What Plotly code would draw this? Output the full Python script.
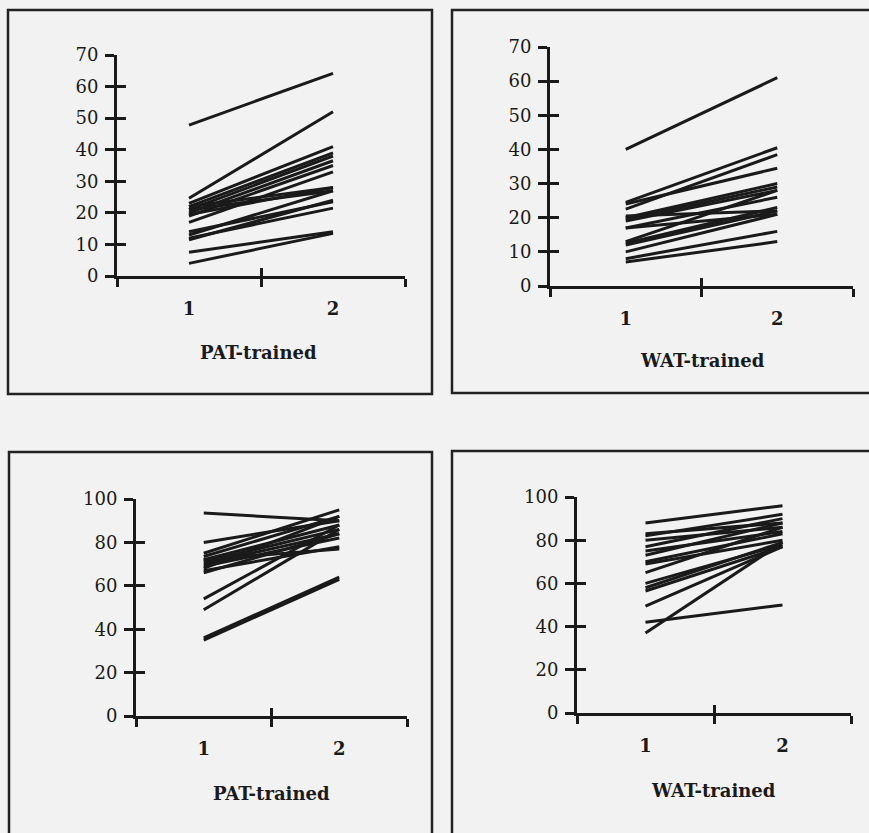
import plotly.graph_objects as go

# ---------------- data ----------------
sessions = [1, 2]

pat_top_s1 = [47.8, 24.6, 23, 22, 21, 20, 19, 17, 22, 21, 19.5, 13, 11.5, 12, 14, 7.5, 4]
pat_top_s2 = [64.2, 52, 41, 39, 38, 36.5, 35, 33, 28, 27, 28, 27, 24, 21.5, 23.5, 14, 13.5]

wat_top_s1 = [40, 24.5, 22.5, 24, 20, 19.5, 19, 17, 20.5, 17, 13, 12.5, 12, 10, 8, 7]
wat_top_s2 = [61, 40.5, 38.5, 34.5, 30, 29, 28, 26, 22, 21, 28, 23, 22, 21, 16, 13]

pat_bot_s1 = [93.5, 80, 75, 73.5, 72, 71, 70, 69, 68, 67, 66, 54, 49, 35, 36, 72]
pat_bot_s2 = [90, 90, 95, 92, 88, 86, 84, 82, 92, 78, 84, 88, 86, 63, 64, 77]

wat_bot_s1 = [88, 83, 82, 80, 77, 75, 73, 70, 69, 65, 60, 58, 56.5, 49.5, 42, 37]
wat_bot_s2 = [96, 88, 92, 86, 90, 84, 88, 83, 80, 86, 78, 79, 77, 77, 50, 79]

titles = ["PAT-trained", "WAT-trained", "PAT-trained", "WAT-trained"]
top_ticks = [0, 10, 20, 30, 40, 50, 60, 70]
bot_ticks = [0, 20, 40, 60, 80, 100]

W, H = 869, 833

def fx(px):
    return px / W

def fy(py):
    return 1 - py / H

# panel geometry in pixels: (x_left, x_right, y_bottom(0), y_top(max))
panels = [
    dict(s1=pat_top_s1, s2=pat_top_s2, geom=(117, 405, 276, 55), ymax=70, ticks=top_ticks,
         title_xy=(258, 352)),
    dict(s1=wat_top_s1, s2=wat_top_s2, geom=(550, 853, 286, 47), ymax=70, ticks=top_ticks,
         title_xy=(702, 360)),
    dict(s1=pat_bot_s1, s2=pat_bot_s2, geom=(136, 407, 716, 499), ymax=100, ticks=bot_ticks,
         title_xy=(271, 793)),
    dict(s1=wat_bot_s1, s2=wat_bot_s2, geom=(577, 851, 713, 497), ymax=100, ticks=bot_ticks,
         title_xy=(713, 790)),
]

FONT = "DejaVu Serif"
INK = "#1a1a1a"
BG = "#f2f2f2"

fig = go.Figure()
layout = dict(
    width=W, height=H, margin=dict(l=0, r=0, t=0, b=0, autoexpand=False),
    paper_bgcolor=BG, plot_bgcolor="rgba(0,0,0,0)",
    showlegend=False, font=dict(family=FONT, color=INK, size=18),
)
annotations = []
shapes = []

for i, p in enumerate(panels):
    n = i + 1
    m = i + 5
    xl, xr, yb, yt = p["geom"]
    xdom = [fx(xl), fx(xr)]
    ydom = [fy(yb), fy(yt)]
    xa = "x" if n == 1 else f"x{n}"
    ya = "y" if n == 1 else f"y{n}"
    xo = f"x{m}"
    yo = f"y{m}"

    for a, b in zip(p["s1"], p["s2"]):
        fig.add_trace(go.Scatter(x=sessions, y=[a, b], mode="lines",
                                 line=dict(color=INK, width=3),
                                 xaxis=xa, yaxis=ya, hoverinfo="skip"))
    # helper (invisible) trace to activate the overlay axes (inner half of the tick marks)
    fig.add_trace(go.Scatter(x=[1], y=[0], mode="markers", opacity=0,
                             xaxis=xo, yaxis=yo, hoverinfo="skip"))

    layout["xaxis" if n == 1 else f"xaxis{n}"] = dict(
        domain=xdom, anchor=ya, range=[0.5, 2.5], showgrid=False, zeroline=False,
        showline=True, linewidth=3, linecolor=INK, automargin=False,
        tickmode="array", tickvals=sessions, ticktext=[str(s) for s in sessions],
        ticks="", ticklabelstandoff=14,
        tickfont=dict(family=FONT, size=18, color=INK, weight="bold"),
        minor=dict(tickmode="array", tickvals=[0.5, 1.5, 2.5], ticks="outside",
                   ticklen=8, tickwidth=3, tickcolor=INK, showgrid=False),
    )
    layout["yaxis" if n == 1 else f"yaxis{n}"] = dict(
        domain=ydom, anchor=xa, range=[0, p["ymax"]], showgrid=False, zeroline=False,
        showline=True, linewidth=3, linecolor=INK, automargin=False,
        tickmode="array", tickvals=p["ticks"], ticks="outside", ticklen=9,
        tickwidth=3, tickcolor=INK, ticklabelstandoff=3,
        tickfont=dict(family=FONT, size=18, color=INK),
    )
    layout[f"xaxis{m}"] = dict(
        overlaying=xa, anchor=yo, range=[0.5, 2.5], showgrid=False, zeroline=False,
        showline=False, tickmode="array", tickvals=[0.5, 1.5, 2.5], ticks="inside",
        ticklen=8, tickwidth=3, tickcolor=INK, showticklabels=False, automargin=False,
    )
    layout[f"yaxis{m}"] = dict(
        overlaying=ya, anchor=xo, range=[0, p["ymax"]], showgrid=False, zeroline=False,
        showline=False, tickmode="array", tickvals=p["ticks"], ticks="inside",
        ticklen=9, tickwidth=3, tickcolor=INK, showticklabels=False, automargin=False,
    )
    tx, ty = p["title_xy"]
    annotations.append(dict(text=titles[i], x=fx(tx), y=fy(ty), xref="paper", yref="paper",
                            showarrow=False, xanchor="center", yanchor="middle",
                            font=dict(family=FONT, size=18, color=INK, weight="bold")))

boxes = [(8, 10, 432, 394), (452, 10, 880, 393), (9, 452, 432, 850), (452, 451, 880, 850)]
for x0, y0, x1, y1 in boxes:
    shapes.append(dict(type="rect", xref="paper", yref="paper",
                       x0=fx(x0), x1=fx(x1), y0=fy(y0), y1=fy(y1),
                       line=dict(color="#222222", width=2.5), layer="below"))

layout["annotations"] = annotations
layout["shapes"] = shapes
fig.update_layout(**layout)
fig.write_html("out.html")
